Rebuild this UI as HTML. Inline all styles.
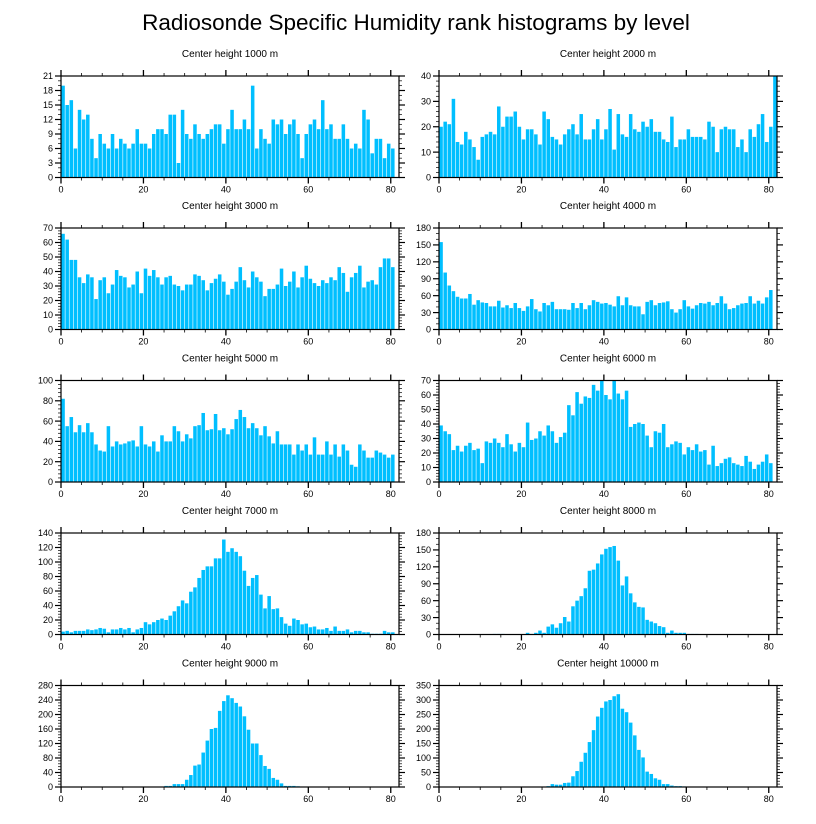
<!DOCTYPE html>
<html><head><meta charset="utf-8"><style>
body{margin:0;background:#fff;}
svg{display:block;font-family:"Liberation Sans",sans-serif;}
</style></head><body>
<svg id="chart" width="816" height="824" viewBox="0 0 816 824" xmlns="http://www.w3.org/2000/svg">
<text x="416" y="30" text-anchor="middle" font-size="22.5">Radiosonde Specific Humidity rank histograms by level</text>
</svg>
<script>
const panelTitles = ["Center height 1000 m","Center height 2000 m","Center height 3000 m","Center height 4000 m","Center height 5000 m","Center height 6000 m","Center height 7000 m","Center height 8000 m","Center height 9000 m","Center height 10000 m"];
const yMaxes = [21,40,70,180,100,70,140,180,280,350];
const yMajor = [3,10,10,30,20,10,20,30,40,50];
const yMinor = [1,2,2,10,4,2,4,10,8,10];
const xTickLabels = [0,20,40,60,80];
const h1000 = [19,15,16,6,14,12,13,8,4,9,7,6,9,6,8,7,6,7,10,7,7,6,9,10,10,9,13,13,3,14,9,8,11,9,8,9,10,11,11,7,10,14,10,10,12,10,19,6,10,8,7,12,11,12,9,11,12,9,4,9,11,12,10,16,10,11,8,8,11,8,6,7,6,14,12,5,8,8,4,7,6];
const h2000 = [20,22,21,31,14,13,18,15,12,7,16,17,18,17,28,20,24,24,26,20,15,19,19,17,13,26,23,16,15,13,17,19,21,17,25,15,15,19,23,15,19,27,11,25,17,16,25,19,18,22,20,23,18,18,15,14,24,12,15,15,19,16,16,16,15,22,20,10,19,20,19,19,12,15,10,19,16,21,25,14,20,40];
const h3000 = [66,62,48,48,36,32,38,36,21,34,36,25,31,41,37,36,29,31,40,25,42,37,41,36,31,36,37,31,30,27,31,31,38,37,34,27,32,35,38,33,24,28,33,43,34,29,40,36,33,23,28,28,31,42,30,33,40,29,36,44,35,32,30,34,32,36,34,43,39,26,36,39,44,29,33,34,31,43,49,49,43];
const h4000 = [155,101,78,68,58,55,55,63,44,52,48,47,41,41,51,39,43,38,47,38,33,41,54,36,32,47,43,49,36,36,36,35,47,38,47,36,43,52,49,46,47,44,41,59,43,57,43,41,41,27,49,52,43,47,48,50,36,30,36,52,41,37,43,47,46,49,43,47,59,46,36,38,43,46,47,59,46,51,46,57,70];
const h5000 = [82,55,64,49,56,49,58,49,37,31,30,55,35,40,37,38,40,41,35,55,37,35,40,30,46,40,40,55,50,40,47,43,55,56,68,51,52,67,51,53,47,52,62,71,64,53,58,53,46,55,45,38,50,37,37,37,27,37,31,37,27,44,27,27,40,27,37,25,37,31,17,15,37,31,24,24,31,29,27,24,27];
const h6000 = [39,35,33,22,25,21,25,27,22,23,13,28,27,30,27,24,33,26,21,27,24,41,29,30,35,32,39,35,27,31,34,53,46,62,54,59,58,67,63,70,60,57,70,61,57,63,38,40,41,40,32,24,35,34,40,24,26,28,27,19,24,22,26,21,22,12,25,11,13,16,17,13,12,11,18,14,9,12,14,19,13];
const h7000 = [4,5,3,5,5,5,7,6,7,9,8,3,7,7,9,7,9,3,7,9,17,14,17,20,22,20,26,32,39,47,43,59,65,78,89,94,94,105,105,131,114,119,114,108,88,67,78,82,55,36,53,35,36,24,15,12,22,20,14,15,10,11,7,7,9,5,11,5,5,7,3,5,5,3,3,1,1,1,5,3,3];
const h8000 = [0,0,0,0,0,0,0,0,0,0,0,0,0,1,1,1,0,0,0,0,0,3,1,3,7,3,14,18,12,20,31,23,50,60,68,82,113,115,126,142,152,155,157,131,87,103,73,57,49,48,26,23,20,15,13,3,7,3,3,3,1,1,1,0,0,0,0,0,0,0,0,0,0,0,0,0,0,0,0,0,0];
const h9000 = [0,0,0,0,0,0,0,0,0,0,0,0,0,0,0,0,0,0,0,0,0,0,0,0,0,3,3,8,8,8,20,33,59,62,95,128,160,163,210,237,253,245,232,222,195,158,120,120,88,58,50,25,20,10,3,3,3,2,1,0,1,0,0,0,0,0,0,0,0,0,0,0,0,0,0,0,0,0,0,0,0];
const h10000 = [0,0,0,0,0,0,0,0,0,0,0,0,0,0,0,0,0,0,0,0,0,0,0,0,0,0,3,10,8,8,14,15,37,55,87,118,155,196,243,273,295,300,313,320,270,258,222,178,128,102,53,45,30,25,10,10,5,3,3,2,1,0,0,0,0,0,0,0,0,0,0,0,0,0,0,0,0,0,0,0,0];
const series = [h1000,h2000,h3000,h4000,h5000,h6000,h7000,h8000,h9000,h10000];

const NS = "http://www.w3.org/2000/svg";
const svg = document.getElementById("chart");
const colX = [61, 439], rowY = [76, 228, 380.5, 533, 685.5];
const PW = 338, PH = 101.5, XMAX = 82;
function mk(tag, attrs, parent){ const e=document.createElementNS(NS,tag); for(const k in attrs) e.setAttribute(k,attrs[k]); (parent||svg).appendChild(e); return e; }

series.forEach((vals, p) => {
  const x0 = colX[p%2], y0 = rowY[Math.floor(p/2)];
  const xs = v => x0 + v/XMAX*PW;
  const ys = v => y0 + PH - v/yMaxes[p]*PH;
  const g = mk("g", {});
  
  
  const t = mk("text", {x: x0+PW/2, y: y0-19, "text-anchor":"middle", "font-size":"10"}, g);
  
  
  t.textContent = panelTitles[p];
  vals.forEach((v, i) => {
    if (v <= 0) return;
    const top = ys(Math.min(v, yMaxes[p]));
    const r = mk("rect", {x: xs(i)+0.3, y: top, width: Math.max(0, Math.min(xs(i+1), x0+PW) - xs(i) - 0.6), height: y0+PH-top, fill:"#00bfff"}, g);
    
    
  });
  const fr = mk("rect", {x:x0, y:y0, width:PW, height:PH, fill:"none", stroke:"#000", "stroke-width":"1.2"}, g);
  
  
  for (let v=0; v<=XMAX; v+=5) {
    const major = v%20===0, L = major?6:3, X = xs(v);
    mk("line",{x1:X,x2:X,y1:y0+PH,y2:y0+PH+L,stroke:"#000","stroke-width":major?1.3:0.8},g);
    mk("line",{x1:X,x2:X,y1:y0,y2:y0-L,stroke:"#000","stroke-width":major?1.3:0.8},g);
  }
  xTickLabels.forEach(v => {
    const tl = mk("text",{x:xs(v), y:y0+PH+15, "text-anchor":"middle","font-size":"9"},g);
    
    
    tl.textContent = v;
  });
  for (let v=0; v<=yMaxes[p]+1e-9; v+=yMinor[p]) {
    const major = Math.abs(v/yMajor[p]-Math.round(v/yMajor[p]))<1e-6, L = major?6:3, Y = ys(v);
    mk("line",{x1:x0,x2:x0-L,y1:Y,y2:Y,stroke:"#000","stroke-width":major?1.2:0.7},g);
    mk("line",{x1:x0+PW,x2:x0+PW+L,y1:Y,y2:Y,stroke:"#000","stroke-width":major?1.2:0.7},g);
  }
  for (let v=0; v<=yMaxes[p]+1e-9; v+=yMajor[p]) {
    const yl = mk("text",{x:x0-8, y:ys(v)+3.2, "text-anchor":"end","font-size":"9"},g);
    
    
    yl.textContent = v;
  }
});
</script>
</body></html>
